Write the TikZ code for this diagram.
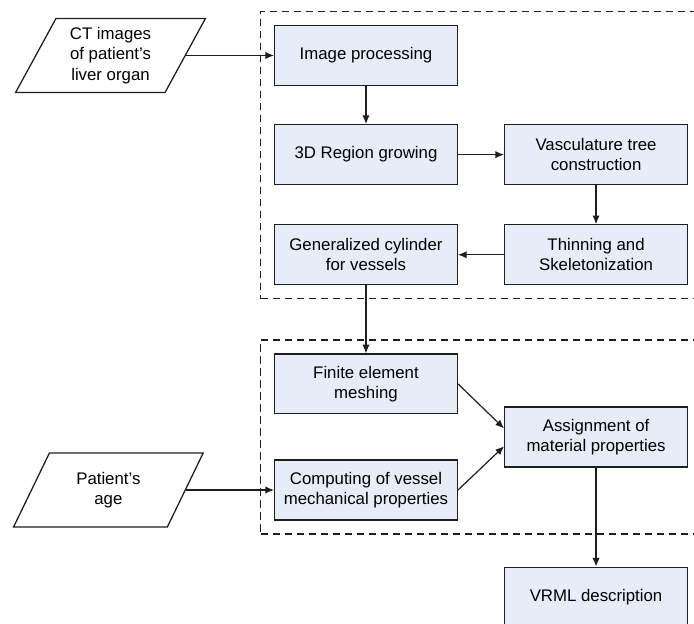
\documentclass[tikz,border=0pt]{standalone}
\usepackage{fontspec}
\setmainfont{Liberation Sans}
\usepackage{tikz}
\usetikzlibrary{arrows.meta,shapes.geometric,positioning,fit,calc}
\definecolor{boxfill}{RGB}{230,236,248}
\definecolor{boxline}{RGB}{30,30,30}
\tikzset{
    stage/.style={
           rectangle,
           draw=boxline, line width=0.95pt,
           fill=boxfill,
           minimum width=137.1pt, minimum height=44.9pt,
           inner sep=2pt,
           align=center,
           font=\fontsize{12.6pt}{15pt}\selectfont,
           },
}
\tikzset{
    data/.style={
           trapezium,
           trapezium left angle=62.5, trapezium right angle=117.5,
           trapezium stretches=true,
           draw=boxline, line width=0.95pt,
           minimum width=142.5pt, minimum height=55.5pt,
           inner sep=1pt,
           align=center,
           font=\fontsize{12.6pt}{15.5pt}\selectfont,
           },
}
\tikzset{
    group/.style={
           rectangle,
           draw=boxline, line width=0.95pt,
           dash pattern=on 5.5pt off 3.5pt,
           inner sep=10pt,
           },
}
\tikzset{
    flow/.style={
           -{Latex[length=6.5pt,width=5.5pt]}, line width=0.9pt, draw=boxline,
           },
}

\begin{document}
\begin{tikzpicture}
\useasboundingbox (-274.5pt,-426.375pt) rectangle (246pt,41.625pt);
\node[stage](img){Image processing};
\node[stage,below=28.5pt of img](grow){3D Region growing};
\node[stage,right=34.5pt of grow](tree){Vasculature tree\\construction};
\node[stage,below=29.25pt of tree](thin){Thinning and\\Skeletonization};
\node[stage,left=34.5pt of thin](cyl){Generalized cylinder\\for vessels};
\node[stage,below=51pt of cyl](mesh){Finite element\\meshing};
\node[stage,below=33.75pt of mesh](mech){Computing of vessel\\mechanical properties};
\coordinate (mid) at ($(mesh.east)!0.5!(mech.east)$);
\node[stage,right=34.5pt of mid](assign){Assignment of\\material properties};
\node[stage,below=74.25pt of assign](vrml){VRML description};
\node[data,left=66pt of img](ct){CT images\\of patient’s\\liver organ};
\node[data,left=66pt of mech](age){Patient’s\\age};
% dashed groups
\node[group,fit=(img)(thin)](upper){};
\node[group,fit=(mesh)(mech)(assign)](lower){};
% connectors
\draw[flow] (ct.east) -- (img.west |- ct.east);
\draw[flow] (img) -- (grow);
\draw[flow] (grow) -- (tree);
\draw[flow] (tree) -- (thin);
\draw[flow] (thin) -- (cyl);
\draw[flow] (cyl) -- (mesh);
\draw[flow] (mesh.east) -- ([yshift=6.4pt]assign.west);
\draw[flow] (mech.east) -- ([yshift=-7pt]assign.west);
\draw[flow] (age.east) -- (mech.west |- age.east);
\draw[flow] (assign) -- (vrml);
\end{tikzpicture}
\end{document}
